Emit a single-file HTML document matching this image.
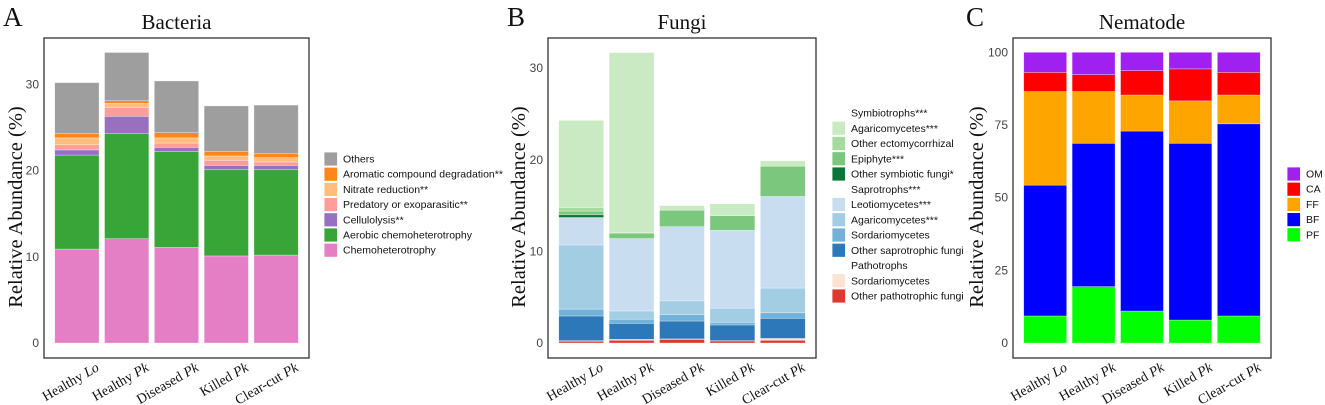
<!DOCTYPE html>
<html><head><meta charset="utf-8">
<style>
body{margin:0;background:#fff;}
svg{display:block;}
.tick{font-family:"Liberation Sans",sans-serif;font-size:12px;fill:#444;}
.leg{font-family:"Liberation Sans",sans-serif;font-size:10.5px;fill:#111;}
.ttl{font-family:"Liberation Serif",serif;font-size:21px;fill:#111;}
.pl{font-family:"Liberation Serif",serif;font-size:27px;fill:#111;}
.yt{font-family:"Liberation Serif",serif;font-size:20.5px;fill:#111;}
.xl{font-family:"Liberation Serif",serif;font-size:14px;fill:#111;}
</style></head>
<body>
<svg id="fig" width="1325" height="405" viewBox="0 0 1325 405" xmlns="http://www.w3.org/2000/svg"></svg>
<script>
// ---- shared categories ----
const categories = ["Healthy Lo","Healthy Pk","Diseased Pk","Killed Pk","Clear-cut Pk"];
const catPrefix = ["Healthy ","Healthy ","Diseased ","Killed ","Clear-cut "];
const catItalic = ["Lo","Pk","Pk","Pk","Pk"];

// ---- Bacteria (segments bottom-up) ----
const bacSeries = ["Chemoheterotrophy","Aerobic chemoheterotrophy","Cellulolysis**","Predatory or exoparasitic**","Nitrate reduction**","Aromatic compound degradation**","Others"];
const bacColors = ["#e377c2","#2ca02c","#9467bd","#ff9896","#ffbb78","#ff7f0e","#999999"];
const bacValues = [
  [10.9,12.1,11.1,10.1,10.2],
  [10.9,12.2,11.1,10.0,9.9],
  [0.6,2.0,0.5,0.5,0.5],
  [0.6,1.0,0.5,0.6,0.4],
  [0.8,0.5,0.6,0.5,0.5],
  [0.5,0.3,0.6,0.5,0.5],
  [5.9,5.6,6.0,5.3,5.6]
];
const bacTicks = [0,10,20,30];

// ---- Fungi ----
const funSeries = ["Other pathotrophic fungi","Sordariomycetes (path)","Other saprotrophic fungi","Sordariomycetes (sap)","Agaricomycetes (sap)","Leotiomycetes","Other symbiotic fungi","Epiphyte","Other ectomycorrhizal","Agaricomycetes (sym)"];
const funColors = ["#de2d26","#fee0d2","#2171b5","#6baed6","#9ecae1","#c6dbef","#006d2c","#74c476","#a1d99b","#c7e9c0"];
const funValues = [
  [0.2,0.3,0.4,0.22,0.3],
  [0.05,0.1,0.05,0.03,0.2],
  [2.7,1.75,1.95,1.72,2.2],
  [0.75,0.45,0.7,0.29,0.6],
  [7.0,0.9,1.5,1.54,2.7],
  [3.0,7.9,8.1,8.5,10.0],
  [0.3,0.0,0.0,0.0,0.0],
  [0.4,0.6,1.8,1.6,3.3],
  [0.4,0.05,0.0,0.0,0.0],
  [9.5,19.65,0.5,1.3,0.6]
];
const funTicks = [0,10,20,30];
const funLegend = [
  ["Symbiotrophs***",null],["Agaricomycetes***","#c7e9c0"],["Other ectomycorrhizal","#a1d99b"],["Epiphyte***","#74c476"],["Other symbiotic fungi*","#006d2c"],
  ["Saprotrophs***",null],["Leotiomycetes***","#c6dbef"],["Agaricomycetes***","#9ecae1"],["Sordariomycetes","#6baed6"],["Other saprotrophic fungi","#2171b5"],
  ["Pathotrophs",null],["Sordariomycetes","#fee0d2"],["Other pathotrophic fungi","#de2d26"]
];

// ---- Nematode ----
const nemSeries = ["PF","BF","FF","CA","OM"];
const nemColors = ["#00ff00","#0000ff","#ffa500","#ff0000","#a020f0"];
const nemValues = [
  [9.3,19.4,11.0,7.9,9.3],
  [45.0,49.3,61.9,60.8,66.1],
  [32.2,17.8,12.4,14.6,9.9],
  [6.6,5.8,8.4,11.0,7.8],
  [6.9,7.7,6.3,5.7,6.9]
];
const nemTicks = [0,25,50,75,100];

const NS="http://www.w3.org/2000/svg";
const svg=document.getElementById('fig');
function mk(tag,attrs,parent){const e=document.createElementNS(NS,tag);for(const k in attrs)e.setAttribute(k,attrs[k]);(parent||svg).appendChild(e);return e;}

function panel(cfg){
  const g=mk('g',{});
  
  
  const y0=343, y=v=>y0-v*cfg.ppu;
  const box=mk('rect',{x:cfg.bx0,y:38,width:cfg.bx1-cfg.bx0,height:320,fill:'none',stroke:'#333','stroke-width':1.3},g);
  
  
  cfg.ticks.forEach(t=>{
    const tx=mk('text',{x:cfg.bx0-5,y:y(t)+4,'text-anchor':'end',class:'tick'},g);
    tx.textContent=t;
    
    
  });
  const step=(cfg.bx1-cfg.bx0-16)/5;
  const bw=step-5.5;
  categories.forEach((c,i)=>{
    const x=cfg.bx0+8+i*step+2.75;
    let cum=0;
    cfg.values.forEach((ser,s)=>{
      const v=ser[i]; if(v<=0){return;}
      const r=mk('rect',{x:x,y:y(cum+v),width:bw,height:v*cfg.ppu,fill:cfg.colors[s],stroke:'rgba(255,255,255,0.5)','stroke-width':0.6,'fill-opacity':cfg.op},g);
      
      
      cum+=v;
    });
    const cx=x+bw/2+23, cy=370;
    const lt=mk('text',{x:cx,y:cy,'text-anchor':'end',class:'xl',transform:'rotate(-30 '+cx+' '+cy+')'},g);
    
    
    const a=mk('tspan',{},lt);a.textContent=catPrefix[i];
    const b=mk('tspan',{'font-style':'italic'},lt);b.textContent=catItalic[i];
  });
  const pl=mk('text',{x:cfg.plx,y:26,class:'pl'},g);pl.textContent=cfg.letter;
  
  
  const tt=mk('text',{x:(cfg.bx0+cfg.bx1)/2,y:29,'text-anchor':'middle',class:'ttl'},g);tt.textContent=cfg.title;
  
  
  const yx=cfg.ytx, yy=207;
  const yt=mk('text',{x:yx,y:yy,'text-anchor':'middle',class:'yt',transform:'rotate(-90 '+yx+' '+yy+')'},g);
  yt.textContent='Relative Abundance (%)';
  
  
  cfg.legend.forEach((it,k)=>{
    const ty=cfg.ly+k*cfg.lstep;
    if(it[1]){
      const sw=mk('rect',{x:cfg.lx,y:ty-7,width:13.5,height:14,fill:it[1],stroke:'#fff','stroke-width':0.8,'fill-opacity':cfg.op},g);
      
      
    }
    const lt=mk('text',{x:cfg.lx+19,y:ty+3.5,class:'leg'},g);lt.textContent=it[0];
    
    
  });
}

const bacLegend=bacSeries.slice().reverse().map((s,k)=>[s,bacColors[bacColors.length-1-k]]);
panel({name:'bacteria',title:'Bacteria',letter:'A',plx:3,bx0:44,bx1:309,ppu:8.62,ticks:bacTicks,values:bacValues,colors:bacColors,op:0.95,ytx:22,legend:bacLegend,lx:324,ly:159,lstep:15.2});
panel({name:'fungi',title:'Fungi',letter:'B',plx:507,bx0:548,bx1:816,ppu:9.16,ticks:funTicks,values:funValues,colors:funColors,op:0.95,ytx:525,legend:funLegend,lx:832,ly:113,lstep:15.25});
const nemLegend=nemSeries.slice().reverse().map((s,k)=>[s,nemColors[nemColors.length-1-k]]);
panel({name:'nematode',title:'Nematode',letter:'C',plx:966,bx0:1013,bx1:1271,ppu:2.907,ticks:nemTicks,values:nemValues,colors:nemColors,op:1,ytx:983,legend:nemLegend,lx:1287,ly:174,lstep:15.2});
</script>
</body></html>
